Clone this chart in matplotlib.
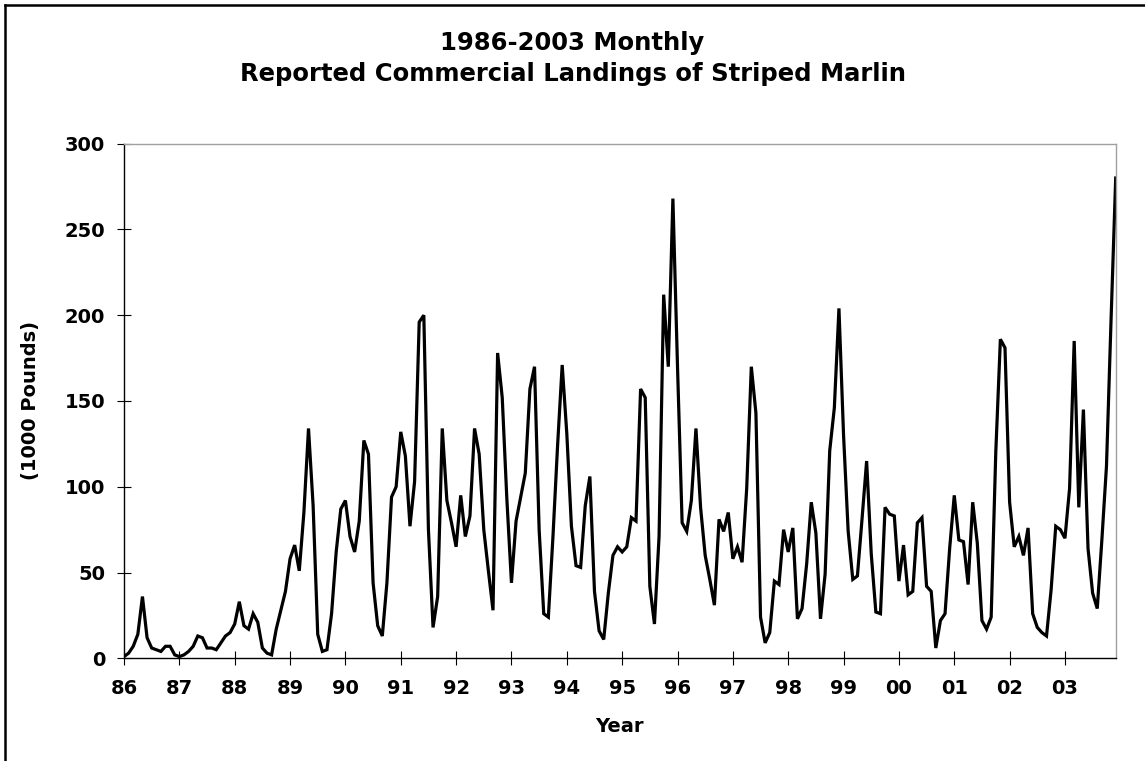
import numpy as np
import matplotlib
matplotlib.use('Agg')
import matplotlib.pyplot as plt
from matplotlib.lines import Line2D

# monthly landings, 1000 pounds, Jan..Dec for each year
years = ['86', '87', '88', '89', '90', '91', '92', '93', '94',
         '95', '96', '97', '98', '99', '00', '01', '02', '03']
y1986 = [1, 3, 7, 14, 36, 12, 6, 5, 4, 7, 7, 2]
y1987 = [1, 2, 4, 7, 13, 12, 6, 6, 5, 9, 13, 15]
y1988 = [20, 33, 19, 17, 26, 21, 6, 3, 2, 17, 28, 39]
y1989 = [58, 66, 51, 85, 134, 89, 14, 4, 5, 26, 62, 87]
y1990 = [92, 71, 62, 80, 127, 119, 44, 19, 13, 44, 94, 100]
y1991 = [132, 118, 77, 103, 196, 200, 75, 18, 36, 134, 92, 79]
y1992 = [65, 95, 71, 83, 134, 119, 75, 51, 28, 178, 152, 93]
y1993 = [44, 80, 94, 108, 157, 170, 75, 26, 24, 71, 124, 171]
y1994 = [131, 77, 54, 53, 89, 106, 39, 16, 11, 38, 60, 65]
y1995 = [62, 65, 82, 80, 157, 152, 42, 20, 71, 212, 170, 268]
y1996 = [170, 79, 74, 92, 134, 88, 60, 46, 31, 81, 74, 85]
y1997 = [58, 65, 56, 99, 170, 143, 24, 9, 15, 45, 43, 75]
y1998 = [62, 76, 23, 29, 55, 91, 73, 23, 49, 121, 146, 204]
y1999 = [130, 74, 46, 48, 81, 115, 61, 27, 26, 88, 84, 83]
y2000 = [45, 66, 37, 39, 79, 82, 42, 39, 6, 22, 26, 64]
y2001 = [95, 69, 68, 43, 91, 67, 22, 17, 24, 120, 186, 181]
y2002 = [91, 65, 71, 60, 76, 26, 18, 15, 13, 40, 77, 75]
y2003 = [70, 99, 185, 88, 145, 64, 38, 29, 69, 112, 198, 280]

landings = (y1986 + y1987 + y1988 + y1989 + y1990 + y1991 + y1992 + y1993 + y1994
            + y1995 + y1996 + y1997 + y1998 + y1999 + y2000 + y2001 + y2002 + y2003)
months = np.arange(len(landings))

W, H = 1145, 761
fig = plt.figure(figsize=(W / 100, H / 100), dpi=100)
ax = fig.add_axes([124 / W, 1 - 658.3 / H, (1115.7 - 124) / W, (658.3 - 143.7) / H])

ax.plot(months, landings, color='black', lw=2.3, solid_joinstyle='miter')

ax.set_xlim(0, len(landings) - 1)
ax.set_ylim(0, 300)
ax.set_xticks(np.arange(0, len(landings), 12))
ax.set_xticklabels(years)
ax.set_yticks(np.arange(0, 301, 50))

for lab in ax.get_xticklabels() + ax.get_yticklabels():
    lab.set_fontweight('bold')
    lab.set_fontsize(14)
ax.tick_params(axis='both', direction='inout', length=10, width=0.8, color='black')
ax.tick_params(axis='y', pad=8.5)
ax.tick_params(axis='x', pad=10)

ax.spines['left'].set_color('black')
ax.spines['bottom'].set_color('black')
ax.spines['top'].set_color('#a0a0a0')
ax.spines['right'].set_color('#a0a0a0')
for s in ax.spines.values():
    s.set_linewidth(1.0)

fig.text(0.5, 1 - 43 / H, '1986-2003 Monthly', ha='center', va='center',
         fontsize=17.5, fontweight='bold')
fig.text(0.5, 1 - 74 / H, 'Reported Commercial Landings of Striped Marlin', ha='center',
         va='center', fontsize=17.5, fontweight='bold')
fig.text(619 / W, 1 - 727 / H, 'Year', ha='center', va='center', fontsize=14, fontweight='bold')
fig.text(31 / W, 1 - 401 / H, '(1000 Pounds)', ha='center', va='center', rotation=90,
         fontsize=14, fontweight='bold')

# outer chart border (left and top edges visible)
fig.add_artist(Line2D([5 / W, 5 / W], [0, 1 - 5 / H], color='black', lw=1.8))
fig.add_artist(Line2D([5 / W, 1], [1 - 5 / H, 1 - 5 / H], color='black', lw=1.8))

fig.savefig('out.png', dpi=100)
